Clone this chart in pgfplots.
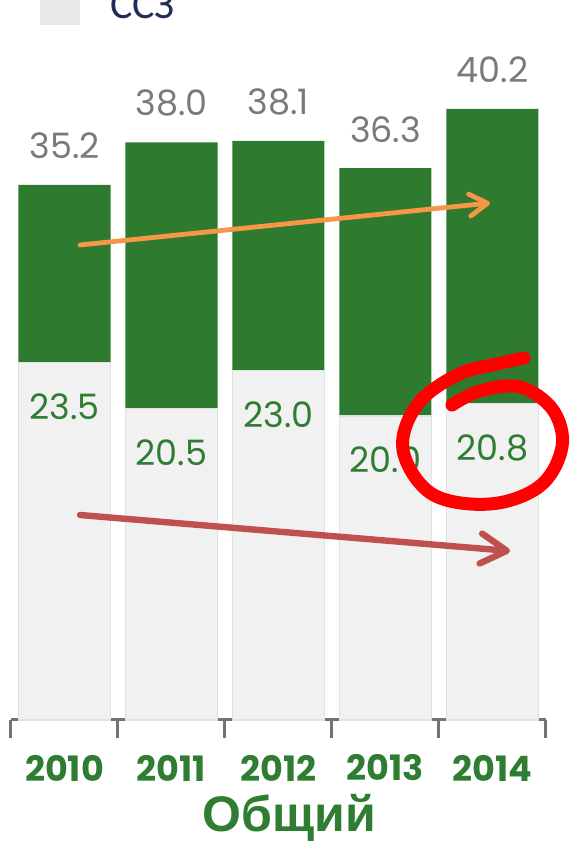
\documentclass[border=0pt]{standalone}
\usepackage{pgfplots}
\pgfplotsset{compat=1.18}
\usepackage{pgfplotstable}
\usepackage{fontspec}
\setmainfont{Poppins}
\newfontfamily\cyrfont{Liberation Sans}
\newfontfamily\legfont{Carlito}
\usetikzlibrary{arrows.meta}
\definecolor{bargreen}{HTML}{2E7B30}
\definecolor{bargray}{HTML}{F1F1F1}
\definecolor{baredge}{HTML}{DCE4DC}
\definecolor{labgray}{HTML}{7A7A7A}
\definecolor{txtgreen}{HTML}{2E7D32}
\definecolor{arrorange}{HTML}{F79646}
\definecolor{arrred}{HTML}{C0504D}
\definecolor{legblue}{HTML}{1F2D5A}
% total = height of the whole bar, gray = lower (CCZ) part
\pgfplotstableread{
x gray total
0 23.5 35.2
1 20.5 38.0
2 23.0 38.1
3 20.0 36.3
4 20.8 40.2
}\datatable
\begin{document}
\begin{tikzpicture}
\useasboundingbox (0,0) rectangle (289pt,422pt);
\clip (0,0) rectangle (289pt,422pt);
\begin{axis}[
  at={(5.5pt,62pt)}, anchor=south west,
  scale only axis, width=267.5pt, height=360pt,
  xmin=-0.5, xmax=4.5, ymin=0, ymax=47.37,
  ybar, bar width=46pt, bar shift=0pt,
  axis y line=none,
  axis x line*=bottom,
  x axis line style={draw=gray!90!black, line width=1.5pt, -},
  xtick={0,1,2,3,4},
  xticklabels={2010,2011,2012,2013,2014},
  major tick length=0pt,
  minor xtick={-0.5,0.5,1.5,2.5,3.5,4.5},
  minor tick length=9pt,
  tick align=outside,
  minor tick style={draw=gray!90!black, line width=1.5pt},
  xticklabel style={font=\fontsize{17.5}{20}\selectfont\bfseries, text=txtgreen, anchor=center, yshift=-24pt},
  xlabel={\cyrfont\bfseries Общий},
  xlabel style={font=\fontsize{25}{30}\selectfont, text=txtgreen, anchor=center, at={(axis description cs:0.52,0)}, yshift=-49pt},
  clip=false,
  nodes near coords,
  point meta=explicit symbolic,
]
\addplot[fill=bargreen, draw=none,
  nodes near coords style={font=\fontsize{17.5}{20}\selectfont, text=labgray, anchor=center, yshift=19.5pt}]
  table[x=x, y=total, meta=total] {\datatable};
\addplot[fill=bargray, draw=baredge, line width=0.6pt,
  nodes near coords style={font=\fontsize{17.5}{20}\selectfont, text=txtgreen, anchor=center, yshift=-22pt}]
  table[x=x, y=gray, meta=gray] {\datatable};
\end{axis}
\begin{scope}[x=0.5pt, y=-0.5pt, shift={(0pt,422pt)}]
  % legend
  \fill[gray!18] (40,-20) rectangle (80,25);
  \node[anchor=base west, inner sep=0pt, text=legblue, font=\legfont\fontsize{21}{24}\selectfont] at (110,19) {ССЗ};
  % arrows
  \draw[arrorange, line width=2.4pt, cap=round, -{Straight Barb[length=9pt, width=11pt, round]}] (80,245) -- (490,203);
  \draw[arrred, line width=3.2pt, cap=round, -{Straight Barb[length=13pt, width=15pt, round]}] (80,515) -- (510,551);
  % circle
  \draw[red, line width=6.5pt, line cap=round] plot[smooth, tension=0.6] coordinates {
    (452,405) (480,391) (520,387) (553,410) (562,447) (540,486) (490,504) (432,494) (403,450) (417,405) (457,375) (497,364) (524,358)};
\end{scope}
\end{tikzpicture}
\end{document}
